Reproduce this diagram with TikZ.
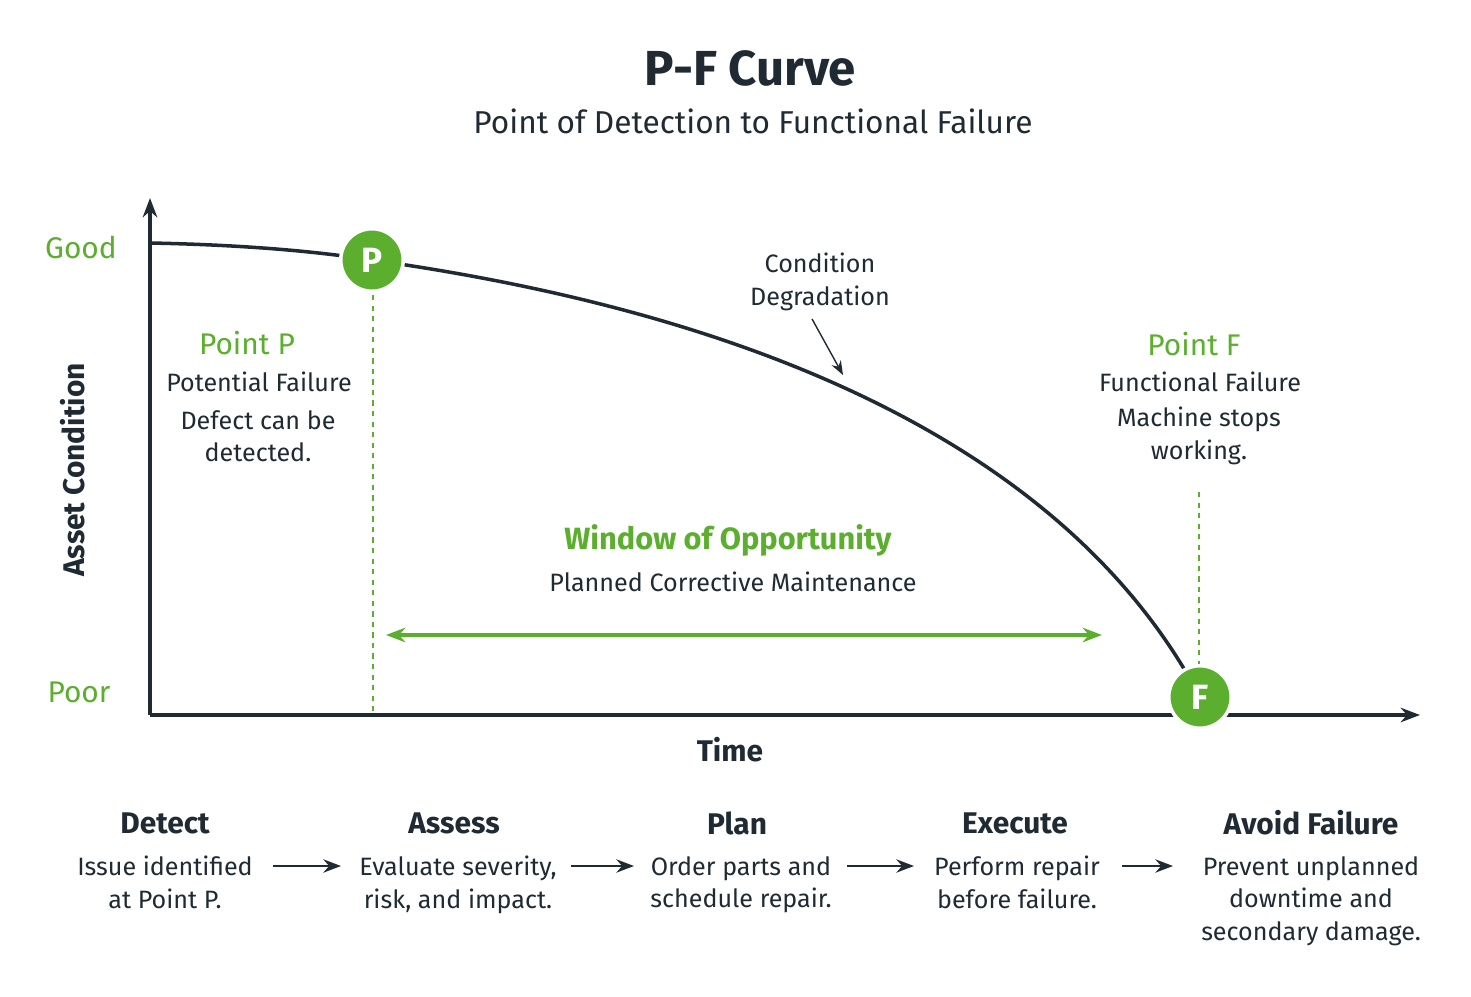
\documentclass[tikz,border=0pt]{standalone}
\usepackage{fontspec}
\setmainfont{Fira Sans}
\usepackage[HTML]{xcolor}
\usetikzlibrary{positioning, arrows.meta}
\definecolor{pfgreen}{HTML}{5BAE2E}
\definecolor{pfdark}{HTML}{1F2A33}
\tikzset{
  lbl/.style={font=\fontsize{14.3}{18.5}\selectfont, text=pfdark, align=center},
  ttl/.style={font=\fontsize{17}{20}\selectfont\bfseries, text=pfdark},
  grn/.style={font=\fontsize{17}{20}\selectfont, text=pfgreen},
  pt/.style={circle, fill=pfgreen, draw=white, line width=2pt, minimum size=1.25cm,
    text=white, font=\fontsize{20}{20}\selectfont\bfseries},
  flowarrow/.style={-{Stealth[length=10pt]}, line width=1.6pt, pfdark}
}
\begin{document}
\begin{tikzpicture}[x=0.02cm, y=-0.02cm]
\useasboundingbox[fill=white] (0,0) rectangle (1471,997);

% Titles
\node[font=\fontsize{28}{30}\selectfont\bfseries, text=pfdark] (title) at (750,68) {P-F Curve};
\node[font=\fontsize{18}{22}\selectfont, text=pfdark] (sub) at (753,121) {Point of Detection to Functional Failure};

% Axes
\coordinate (origin) at (150,715);
\draw[-{Stealth[length=11pt]}, line width=2pt, pfdark] (origin)--(150,198);
\draw[-{Stealth[length=11pt]}, line width=2pt, pfdark] (origin)--(1420,715);
\node[grn] (good) at (81,247) {Good};
\node[grn] (poor) at (79,692) {Poor};
\node[ttl, rotate=90] (cond) at (73,470) {Asset Condition};
\node[ttl] (time) at (730,750) {Time};

% Curve and points
\draw[line width=2pt, pfdark] (150,243) .. controls (250,245) and (320,252) .. (372,260)
  .. controls (800,320) and (1080,470) .. (1200,697);
\draw[pfgreen, thick, dashed] (373,295)--(373,715);
\draw[pfgreen, thick, dashed] (1199,492)--(1199,665);
\node[pt] (P) at (372,260) {P};
\node[pt] (F) at (1200,697) {F};

% Point labels
\node[grn] (pp) at (247,343) {Point P};
\node[lbl] (pp1) at (259,382) {Potential Failure};
\node[lbl] (pp2) at (258,436) {Defect can be\\detected.};
\node[grn] (pf) at (1194,344) {Point F};
\node[lbl] (pf1) at (1200,382) {Functional Failure};
\node[lbl] (pf2) at (1199,436) {Machine stops\\working.};

% Degradation note
\node[lbl] (deg) at (820,282) {Condition\\Degradation};
\coordinate (degtip) at (843,375);
\draw[-{Stealth[length=8pt]}, thick, pfdark] (deg.south) ++(-8,2) -- (degtip);

% Window of opportunity
\node[font=\fontsize{17.5}{20}\selectfont\bfseries, text=pfgreen] (win) at (728,540) {Window of Opportunity};
\node[lbl] (plan) at (733,582) {Planned Corrective Maintenance};
\coordinate (wl) at (386,635);
\coordinate (wr) at (1102,635);
\draw[{Stealth[length=11pt]}-{Stealth[length=11pt]}, line width=2pt, pfgreen] (wl)--(wr);

% Steps
\node[ttl] (s1) at (165,823) {Detect};
\node[lbl, anchor=north] (d1) at (165,850) {Issue identified\\at Point P.};
\node[ttl] (s2) at (454,823) {Assess};
\node[lbl, anchor=north] (d2) at (458,850) {Evaluate severity,\\risk, and impact.};
\node[ttl] (s3) at (737,823) {Plan};
\node[lbl, anchor=north] (d3) at (741,850) {Order parts and\\schedule repair.};
\node[ttl] (s4) at (1015,823) {Execute};
\node[lbl, anchor=north] (d4) at (1017,850) {Perform repair\\before failure.};
\node[ttl] (s5) at (1311,823) {Avoid Failure};
\node[lbl, anchor=north] (d5) at (1311,850) {Prevent unplanned\\downtime and\\secondary damage.};
\coordinate (a1) at (273,866); \coordinate (b1) at (341,866);
\coordinate (a2) at (571,866); \coordinate (b2) at (634,866);
\coordinate (a3) at (847,866); \coordinate (b3) at (914,866);
\coordinate (a4) at (1122,866); \coordinate (b4) at (1173,866);
\foreach \i in {1,...,4}
  \draw[flowarrow] (a\i) -- (b\i);
\end{tikzpicture}
\end{document}
